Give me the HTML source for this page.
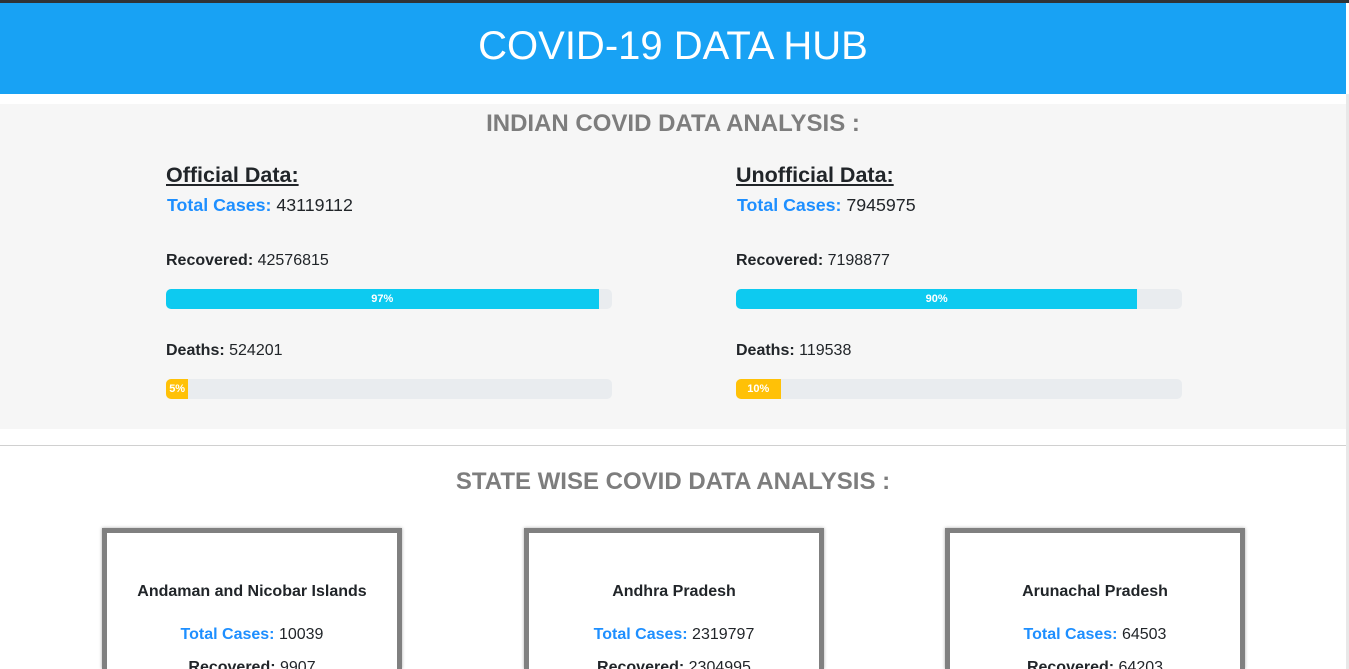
<!DOCTYPE html>
<html style="overflow:hidden;width:1349px;height:669px"><head><meta charset="utf-8"><style>
*{margin:0;padding:0;box-sizing:border-box}
body{width:1349px;height:669px;overflow:hidden;background:#fff;font-family:"Liberation Sans",Arial,sans-serif;position:relative;color:#212529}
.abs{position:absolute}
#topbar{left:0;top:0;width:1349px;height:3px;background:#2f3337}
#header{left:0;top:3px;width:1346px;height:91px;background:#18a2f4;color:#fff;font-size:40px;text-align:center;line-height:86px}
#sec1{left:0;top:104px;width:1346px;height:325px;background:#f6f6f6}
.h2{width:1346px;text-align:center;font-weight:bold;font-size:24px;color:#7d7d7d}
.ttl{font-size:21.5px;font-weight:bold;text-decoration:underline;color:#212529}
.tc{font-size:17.8px}
.tc b{color:#1e8fff}
.lbl{font-size:16px}
.track{width:446px;height:20px;background:#e9ecef;border-radius:5px;overflow:hidden}
.fill{height:20px;color:#fff;font-size:11px;font-weight:bold;text-align:center;line-height:20px}
#rule{left:0;top:445px;width:1346px;height:1px;background:#d0d0d0}
#vrule{left:1346px;top:94px;width:3px;height:575px;background:#e8e8e8}
.card{width:300px;height:141px;border:5px solid #808080;border-bottom:none;text-align:center;background:#fff;box-shadow:0 0 3px #aaa;overflow:hidden}
.card .nm{margin-top:50px;font-weight:bold;font-size:16px}
.card .t{margin-top:25px;font-size:16px}
.card .t b{color:#1e8fff}
.card .r{margin-top:15px;font-size:16px}
</style></head><body>
<div id="topbar" class="abs"></div>
<div id="header" class="abs">COVID-19 DATA HUB</div>
<div id="sec1" class="abs"></div>
<div id="vrule" class="abs"></div>
<div class="abs h2" style="left:0;top:110px">INDIAN COVID DATA ANALYSIS :</div>
<div id="panels"></div>
<div id="rule" class="abs"></div>
<div class="abs h2" style="left:0;top:468px">STATE WISE COVID DATA ANALYSIS :</div>
<div class="abs card" style="left:102px;top:528px"><div class="nm">Andaman and Nicobar Islands</div><div class="t"><b>Total Cases:</b> 10039</div><div class="r"><b>Recovered:</b> 9907</div></div>
<div class="abs card" style="left:524px;top:528px"><div class="nm">Andhra Pradesh</div><div class="t"><b>Total Cases:</b> 2319797</div><div class="r"><b>Recovered:</b> 2304995</div></div>
<div class="abs card" style="left:945px;top:528px"><div class="nm">Arunachal Pradesh</div><div class="t"><b>Total Cases:</b> 64503</div><div class="r"><b>Recovered:</b> 64203</div></div>
<script>
const panelTitles=["Official Data:","Unofficial Data:"];
const totalCases=[43119112,7945975];
const recovered=[42576815,7198877];
const deaths=[524201,119538];
const recPct=[97,90];
const deathPct=[5,10];
const xs=[166,736];
const root=document.getElementById('panels');
function add(html,left,top,cls,name){
  const d=document.createElement('div');
  d.className='abs '+cls;d.style.left=left+'px';d.style.top=top+'px';d.innerHTML=html;
  
  
  root.appendChild(d);return d;
}
function bar(left,top,pct,color,name){
  const t=add('',left,top,'track',name+'-track');
  const f=document.createElement('div');
  f.className='fill';f.style.width=(pct/100*446)+'px';f.style.background=color;f.textContent=pct+'%';
  
  
  t.appendChild(f);
}
panelTitles.forEach((p,i)=>{
  const x=xs[i];
  add(p,x,163,'ttl','panel-title');
  add('<b>Total Cases:</b> '+totalCases[i],x+1,195,'tc','total-cases');
  add('<b>Recovered:</b> '+recovered[i],x,252,'lbl','recovered-label');
  bar(x,289,recPct[i],'#0dcaf0','recovered-bar');
  add('<b>Deaths:</b> '+deaths[i],x,342,'lbl','deaths-label');
  bar(x,379,deathPct[i],'#ffc107','deaths-bar');
});
</script>
</body></html>
